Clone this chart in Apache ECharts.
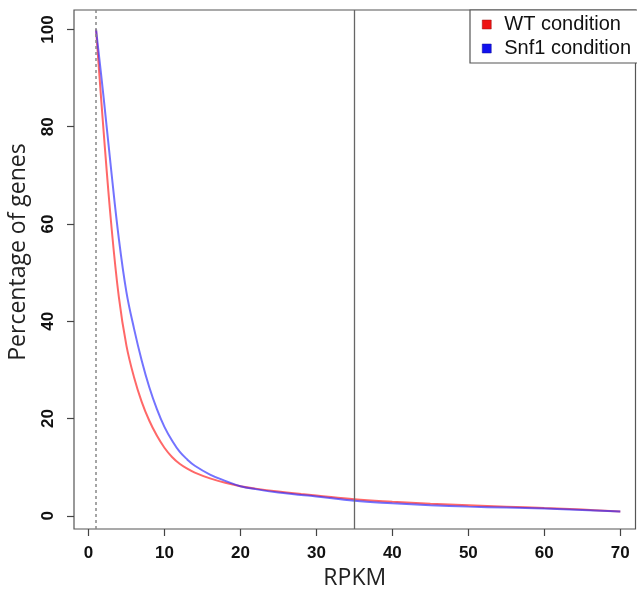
<!DOCTYPE html>
<html>
<head>
<meta charset="utf-8">
<script src="https://cdn.jsdelivr.net/npm/echarts@6/dist/echarts.min.js"></script>
<style>
  html, body { margin: 0; padding: 0; background: #fff; }
  #chart { width: 637px; height: 592px; }
</style>
</head>
<body>
<div id="chart"></div>
<script>
// RPKM 阈值（横坐标）
var rpkm = [1, 2, 3, 4, 5, 6, 7, 8, 9, 10, 11, 12, 13, 14, 16, 18, 20, 22, 25, 28, 30, 35, 40, 45, 50, 55, 60, 65, 70];
// 两种条件下的基因百分比
var wtValues = [100, 79, 60, 45, 35, 28.5, 23.5, 19.6, 16.5, 14, 12.1, 10.7, 9.7, 8.9, 7.7, 6.8, 6.1, 5.6, 5.0, 4.5, 4.2, 3.4, 2.9, 2.5, 2.2, 1.9, 1.6, 1.3, 0.9];
var snf1Values = [100, 86, 71, 57, 46, 38.5, 32, 26.5, 22, 18.3, 15.5, 13.2, 11.6, 10.3, 8.5, 7.2, 6.1, 5.5, 4.8, 4.3, 4.0, 3.1, 2.6, 2.2, 1.9, 1.7, 1.5, 1.2, 0.9];
// 刻度
var xTicks = [0, 10, 20, 30, 40, 50, 60, 70];
var yTicks = [0, 20, 40, 60, 80, 100];
// 参考线
var dottedAt = 1;
var solidAt = 35;

function pairs(xs, ys) {
  return xs.map(function (x, i) { return [x, ys[i]]; });
}

var myChart = echarts.init(document.getElementById('chart'), null, { renderer: 'canvas' });

var option = {
  animation: false,
  backgroundColor: '#fff',
  grid: {
    left: 74, top: 10, right: 1.5, bottom: 63,
    outerBoundsMode: 'none', containLabel: false,
    show: true, borderColor: '#555', borderWidth: 1.2, backgroundColor: 'transparent'
  },
  legend: {
    orient: 'vertical',
    left: 470, top: 10,
    padding: [4, 20, 4, 12],
    borderColor: '#555', borderWidth: 1.2, backgroundColor: '#fff',
    itemWidth: 9, itemHeight: 9, itemGap: 3,
    icon: 'rect',
    textStyle: { fontFamily: 'Liberation Sans', fontSize: 20, lineHeight: 21, color: '#111', padding: [0, 0, 0, 8] },
    data: [
      { name: 'WT condition', itemStyle: { color: '#ee1111', borderColor: '#991111', borderWidth: 0.5 } },
      { name: 'Snf1 condition', itemStyle: { color: '#1111ee', borderColor: '#111199', borderWidth: 0.5 } }
    ]
  },
  xAxis: {
    type: 'value', min: -1.9, max: 72,
    name: 'RPKM', nameLocation: 'middle', nameGap: 37,
    nameTextStyle: { fontFamily: 'Open Sans', fontSize: 23, color: '#222' },
    axisLine: { show: false, onZero: false },
    axisTick: { show: true, customValues: xTicks, length: 7, lineStyle: { color: '#444', width: 1.2 } },
    axisLabel: { customValues: xTicks, margin: 16, fontFamily: 'Liberation Sans', fontWeight: 'bold', fontSize: 17, color: '#111' },
    splitLine: { show: false }
  },
  yAxis: {
    type: 'value', min: -2.7, max: 104,
    name: 'Percentage of genes', nameLocation: 'middle', nameGap: 44, nameRotate: 90,
    nameTextStyle: { fontFamily: 'Open Sans', fontSize: 23, color: '#222', padding: [0, 0, 0, 35] },
    axisLine: { show: false, onZero: false },
    axisTick: { show: true, customValues: yTicks, length: 7, lineStyle: { color: '#444', width: 1.2 } },
    axisLabel: { customValues: yTicks, rotate: 90, margin: 17, fontFamily: 'Liberation Sans', fontWeight: 'bold', fontSize: 17, color: '#111' },
    splitLine: { show: false }
  },
  series: [
    {
      name: 'WT condition', type: 'line',
      data: pairs(rpkm, wtValues),
      showSymbol: false, smooth: 0.4,
      lineStyle: { color: 'rgba(255,40,40,0.7)', width: 2 },
      itemStyle: { color: '#ee1111' },
      markLine: {
        silent: true, symbol: 'none', label: { show: false },
        data: [
          { xAxis: dottedAt, lineStyle: { color: '#888', type: [3, 3], width: 1.5 } },
          { xAxis: solidAt, lineStyle: { color: '#666', type: 'solid', width: 1.3 } }
        ]
      }
    },
    {
      name: 'Snf1 condition', type: 'line',
      data: pairs(rpkm, snf1Values),
      showSymbol: false, smooth: 0.4,
      lineStyle: { color: 'rgba(40,40,255,0.65)', width: 2 },
      itemStyle: { color: '#1111ee' }
    }
  ]
};

myChart.setOption(option);
</script>
</body>
</html>
